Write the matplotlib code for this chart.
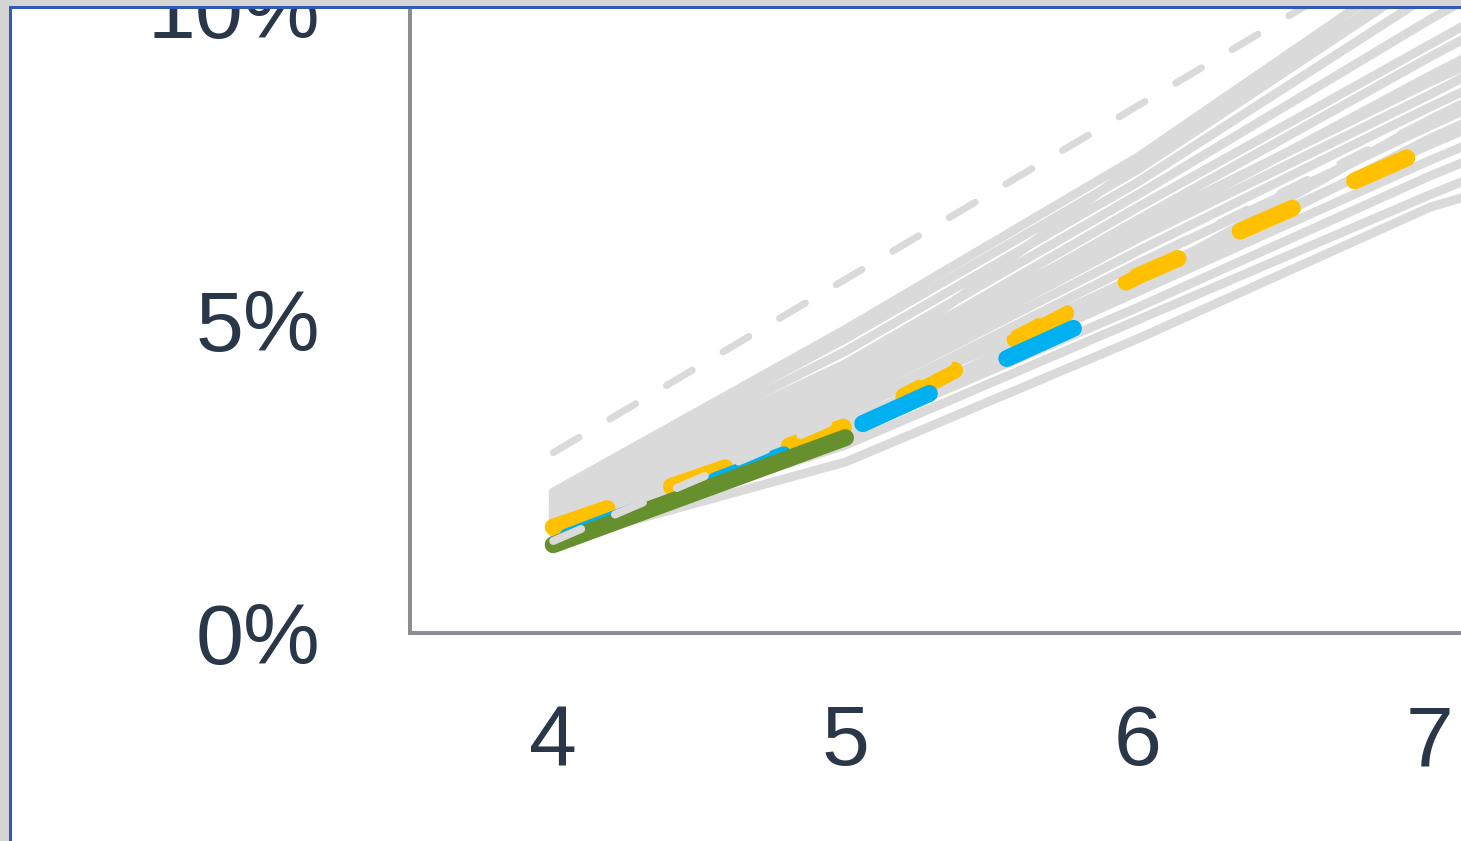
import matplotlib
matplotlib.use('Agg')
import matplotlib.pyplot as plt
from matplotlib.lines import Line2D
from matplotlib.patches import Rectangle

plt.rcParams['font.family'] = ['Liberation Sans', 'DejaVu Sans']

W, H, DPI = 1461, 841, 100

# x positions of the data points
x_pts = [4, 5, 6, 7, 8]

# background bundle of grey lines (percent)
gray_lines = [
    [1.45, 2.73, 4.70, 6.80, 8.2],
    [1.50, 3.00, 5.00, 7.00, 8.9],
    [1.60, 3.20, 5.20, 7.30, 9.2],
    [1.70, 3.35, 5.45, 7.55, 9.5],
    [1.75, 3.50, 5.70, 7.80, 9.8],
    [1.80, 3.55, 5.90, 8.10, 10.2],
    [1.85, 3.70, 6.10, 8.40, 10.6],
    [1.90, 3.80, 6.30, 8.60, 11.0],
    [1.95, 3.90, 6.40, 8.90, 11.3],
    [2.00, 3.95, 6.60, 9.20, 11.7],
    [2.00, 4.10, 6.80, 9.40, 12.0],
    [2.05, 4.20, 6.50, 8.80, 10.9],
    [2.10, 4.30, 7.00, 9.80, 12.4],
    [2.15, 4.50, 7.20, 10.2, 12.8],
    [2.20, 4.70, 7.40, 10.5, 13.0],
    [2.25, 4.85, 7.60, 10.8, 13.5],
    [1.90, 3.60, 5.50, 7.90, 10.0],
    [1.65, 3.10, 5.60, 8.20, 10.5],
    [2.05, 4.00, 7.50, 10.6, 13.0],
]
gray_dashed_top = [2.88, 5.65, 8.42, 11.2, 14.0]
gray_dashed_low = [1.47, 3.47, 5.90, 8.20, 10.4]

yellow_x = [4, 5, 6, 7, 8]
yellow_y = [1.69, 3.30, 5.70, 7.75, 9.8]
blue_x = [4, 5, 6]
blue_y = [1.45, 3.22, 5.33]
green_x = [4, 5]
green_y = [1.41, 3.12]

y_ticks = [0, 5, 10]
y_labels = ['0%', '5%', '10%']
x_ticks = [4, 5, 6, 7]

TEXT = '#2a3749'
GRAY = '#dadada'


def px(p):
    return p * 72 / DPI


fig = plt.figure(figsize=(W / DPI, H / DPI), dpi=DPI)
ax = fig.add_axes([410 / W, 208 / H, 1 - 410 / W, 633 / H])

for vals in gray_lines:
    ax.plot(x_pts, vals, c=GRAY, lw=px(9), solid_capstyle='round', zorder=2)
ax.plot(x_pts, gray_dashed_top, c=GRAY, lw=px(7), dashes=(4.3, 5.1),
        dash_capstyle='round', zorder=2)

ax.plot(yellow_x, yellow_y, c='#ffc000', lw=px(17), dashes=(3.35, 4.0),
        dash_capstyle='round', zorder=3)
ax.plot(blue_x, blue_y, c='#00b0f0', lw=px(17), ls=(8.4, (4.3, 5.0)),
        dash_capstyle='round', zorder=4)
ax.plot(green_x, green_y, c='#66902d', lw=px(17), solid_capstyle='round',
        zorder=5)
ax.plot(x_pts, gray_dashed_low, c=GRAY, lw=px(8), dashes=(3.8, 4.6),
        dash_capstyle='round', zorder=6)

ax.set_xlim(3.51, 7.106)
ax.set_ylim(0, 10.11)
ax.set_xticks(x_ticks)
ax.set_xticklabels([str(t) for t in x_ticks])
ax.set_yticks(y_ticks)
ax.set_yticklabels(y_labels)
ax.tick_params(length=0, labelsize=62, colors=TEXT)
ax.tick_params(axis='y', pad=px(90))
ax.tick_params(axis='x', pad=px(70))
for side in ['top', 'right']:
    ax.spines[side].set_visible(False)
for side in ['left', 'bottom']:
    ax.spines[side].set_color('#8a8e94')
    ax.spines[side].set_linewidth(px(4))

# window frame: grey shadow and blue border on left and top
fig.add_artist(Rectangle((0, 0), 8 / W, 1, transform=fig.transFigure,
                         color='#d4d4d4', zorder=10))
fig.add_artist(Rectangle((0, 1 - 5 / H), 1, 5 / H, transform=fig.transFigure,
                         color='#d4d4d4', zorder=10))
fig.add_artist(Line2D([9.5 / W, 9.5 / W], [0, 1 - 6.5 / H],
                      transform=fig.transFigure, c='#2f5bb7', lw=px(3),
                      zorder=11))
fig.add_artist(Line2D([9.5 / W, 1], [1 - 6.5 / H, 1 - 6.5 / H],
                      transform=fig.transFigure, c='#2f5bb7', lw=px(3),
                      zorder=11))

fig.savefig('out.png', dpi=DPI)
